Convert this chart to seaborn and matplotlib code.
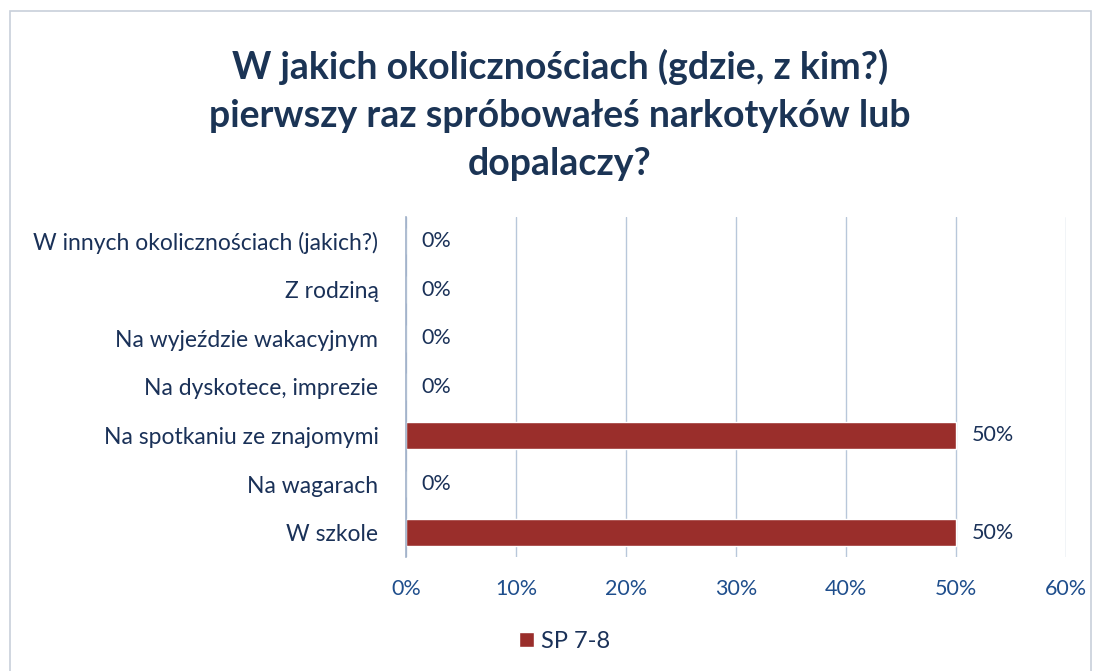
import matplotlib
matplotlib.use('Agg')
import matplotlib.pyplot as plt
import seaborn as sns
import pandas as pd
from matplotlib.patches import Rectangle

# data
categories = [
    'W innych okolicznościach (jakich?)',
    'Z rodziną',
    'Na wyjeździe wakacyjnym',
    'Na dyskotece, imprezie',
    'Na spotkaniu ze znajomymi',
    'Na wagarach',
    'W szkole',
]
values = [0, 0, 0, 0, 50, 0, 50]
series_name = 'SP 7-8'
x_ticks = [0, 10, 20, 30, 40, 50, 60]

df = pd.DataFrame({'kategoria': categories, 'procent': values})

sns.set_style('white')
plt.rcParams['font.family'] = ['Lato', 'DejaVu Sans']

bar_color = '#9A2E2B'
label_color = '#1A3158'
tick_color = '#1F4E8C'

fig = plt.figure(figsize=(10.98, 6.71), dpi=100)
ax = fig.add_axes([0.370, 0.170, 0.601, 0.507])

sns.barplot(data=df, x='procent', y='kategoria', color=bar_color, width=0.55,
            saturation=1, ax=ax, label=series_name)

ax.set_xlim(0, 60)
ax.set_xticks(x_ticks)
ax.set_xticklabels([f'{t}%' for t in x_ticks], color=tick_color, fontsize=15.5)
ax.tick_params(axis='x', length=0, pad=16)
ax.tick_params(axis='y', length=0, pad=20, labelsize=16.5, labelcolor=label_color)
ax.set_xlabel('')
ax.set_ylabel('')
ax.grid(axis='x', color='#B8C7DA', linewidth=1)
ax.set_axisbelow(True)
for s in ['top', 'right', 'bottom']:
    ax.spines[s].set_visible(False)
ax.spines['left'].set_color('#9FB0C8')
ax.spines['left'].set_linewidth(1.2)

for p, v in zip(ax.patches, values):
    y = p.get_y() + p.get_height() / 2
    ax.text(v + 1.4, y, f'{v}%', va='center', ha='left', fontsize=15.5, color=label_color)

fig.suptitle('W jakich okolicznościach (gdzie, z kim?)\npierwszy raz spróbowałeś narkotyków lub\ndopalaczy?',
             x=0.51, y=0.927, fontsize=27, fontweight='bold', color='#1B3455', linespacing=1.5)

leg = ax.legend(loc='upper center', bbox_to_anchor=(0.24, -0.155), frameon=False,
                fontsize=17, handlelength=0.6, handleheight=0.6, handletextpad=0.3)
for t in leg.get_texts():
    t.set_color(label_color)

# frame around the chart area
fig.patches.append(Rectangle((0.009, -0.01), 0.985, 0.993, transform=fig.transFigure,
                             fill=False, edgecolor='#C8D0DA', linewidth=1.2))

fig.savefig('out.png', dpi=100)
